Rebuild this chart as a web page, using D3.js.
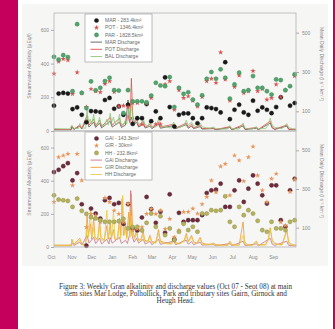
<!DOCTYPE html>
<html>
<head>
<meta charset="utf-8">
<script src="https://cdn.jsdelivr.net/npm/d3@7/dist/d3.min.js"></script>
<style>
  body { margin: 0; background: #fff; }
  svg { display: block; }
</style>
</head>
<body>
<div id="grapharea"></div>
<script>
// weekly sampling dates (Oct 07 - Sep 08)
var sampleDates = ["2007-10-01","2007-10-08","2007-10-15","2007-10-22","2007-10-29","2007-11-05","2007-11-12","2007-11-19","2007-11-26",
  "2007-12-03","2007-12-10","2007-12-17","2007-12-24","2007-12-31","2008-01-07","2008-01-14","2008-01-21","2008-01-28",
  "2008-02-04","2008-02-11","2008-02-18","2008-02-25","2008-03-03","2008-03-10","2008-03-17","2008-03-24","2008-03-31",
  "2008-04-07","2008-04-14","2008-04-21","2008-04-28","2008-05-05","2008-05-12","2008-05-19","2008-05-26","2008-06-02",
  "2008-06-09","2008-06-16","2008-06-23","2008-06-30","2008-07-07","2008-07-14","2008-07-21","2008-07-28","2008-08-04",
  "2008-08-11","2008-08-18","2008-08-25","2008-09-01","2008-09-08","2008-09-15","2008-09-22","2008-09-29"];

// main stem alkalinity (uEq/l)
var marAlk = [150,222,226,222,130,140,96,52,118,116,112,184,196,132,146,96,156,42,76,76,160,58,116,76,318,142,26,
  96,104,104,76,46,76,140,136,130,110,408,70,126,156,110,96,180,120,140,126,106,142,200,null,150,166];
var potAlk = [340,412,428,420,220,348,226,142,249,236,230,280,296,232,146,150,142,166,166,40,162,196,40,40,276,296,126,
  242,196,206,180,146,202,296,310,286,466,306,180,262,330,226,236,356,236,250,186,196,276,200,242,null,326];
var parAlk = [440,424,450,438,236,634,226,136,294,241,256,296,316,242,240,106,242,176,176,176,170,210,286,270,266,320,142,
  256,220,230,186,156,212,310,350,310,366,316,192,276,346,236,242,326,256,256,236,216,306,302,242,266,336];

// tributary alkalinity (uEq/l)
var gaiAlk = [452,466,488,506,402,446,258,8,232,202,172,282,296,258,266,140,258,112,100,178,302,228,146,212,86,318,46,
  206,152,162,162,162,192,326,342,346,382,242,242,342,402,272,352,432,382,312,262,372,372,162,122,342,412];
var girAlk = [272,542,552,562,372,562,402,120,200,190,150,296,272,220,200,150,260,100,110,120,200,230,200,220,110,170,60,
  100,212,212,232,202,258,302,402,330,486,502,312,552,522,398,542,606,432,342,272,412,442,150,130,332,406];
var hhAlk = [312,286,282,278,242,292,218,200,180,172,162,152,152,152,156,170,112,120,122,100,146,202,122,186,72,112,42,
  92,140,102,122,92,202,202,222,218,222,306,152,122,242,192,222,202,158,102,92,152,112,112,102,152,162];

// mean daily discharge, [days after 1 Oct 07, l s-1 km-2]
var marQ = [[0,6],[26,6],[27,20],[30,8],[39,25],[42,10],[50,60],[53,20],[60,45],[63,18],[69,40],[72,16],[85,50],[88,20],
  [99,45],[102,18],[108,30],[112,158],[114,50],[117,70],[120,30],[125,45],[128,20],[135,35],[138,15],[145,25],[148,12],
  [158,35],[161,14],[181,28],[184,12],[200,32],[203,14],[208,25],[211,12],[221,22],[224,10],[241,12],[245,6],[266,18],
  [269,6],[286,25],[289,7],[306,14],[309,6],[327,40],[330,15],[334,8],[352,25],[355,8],[366,6]];
var potQ = [[0,8],[26,8],[27,25],[30,10],[39,30],[42,12],[50,80],[53,30],[60,60],[63,25],[69,55],[72,22],[85,70],[88,30],
  [99,65],[102,25],[108,45],[112,80],[115,40],[117,268],[119,80],[122,40],[125,60],[128,25],[135,50],[138,20],[145,35],
  [148,18],[158,45],[161,20],[181,35],[184,15],[200,40],[203,20],[208,35],[211,15],[221,30],[224,12],[241,15],[245,8],
  [266,22],[269,8],[286,32],[289,10],[306,18],[309,8],[327,50],[330,20],[334,10],[352,30],[355,10],[366,8]];
var balQ = [[0,12],[24,10],[27,30],[30,14],[37,12],[39,38],[42,16],[48,14],[50,110],[52,40],[55,60],[57,30],[60,85],[62,40],
  [66,30],[69,70],[71,35],[76,25],[80,60],[82,30],[85,90],[87,45],[90,70],[92,40],[96,35],[99,85],[101,40],[105,30],[108,55],
  [110,35],[113,120],[115,60],[117,150],[119,60],[122,40],[125,75],[127,40],[131,30],[135,65],[137,35],[142,25],[145,45],
  [148,25],[154,20],[158,60],[161,30],[166,22],[172,18],[178,15],[181,45],[184,22],[190,18],[197,30],[200,55],[203,30],
  [208,45],[211,28],[216,20],[221,40],[224,22],[230,16],[236,14],[241,20],[245,12],[255,10],[263,10],[266,28],[269,12],
  [280,10],[286,40],[289,14],[300,10],[306,22],[309,12],[320,12],[324,30],[327,65],[330,30],[334,18],[345,12],[352,38],
  [355,18],[360,12],[366,10]];
var gaiQ = [[0,6],[26,6],[27,20],[30,8],[39,25],[42,10],[50,60],[53,20],[60,50],[63,18],[69,45],[72,16],[80,40],[83,16],
  [85,50],[88,20],[99,50],[102,18],[108,35],[111,18],[114,60],[116,292],[118,60],[121,25],[125,45],[128,20],[135,40],
  [138,15],[145,30],[148,12],[158,40],[161,14],[181,30],[184,12],[200,35],[203,14],[208,28],[211,12],[221,25],[224,10],
  [241,12],[245,6],[266,18],[269,6],[286,30],[289,7],[306,16],[309,6],[327,45],[330,15],[334,8],[352,30],[355,8],[366,6]];
var girQ = [[0,10],[26,10],[27,40],[30,14],[39,45],[42,15],[48,14],[50,170],[52,60],[55,120],[57,40],[60,150],[62,50],
  [66,40],[69,140],[71,50],[76,35],[80,110],[82,40],[85,120],[87,50],[90,90],[92,40],[96,40],[99,150],[101,60],[103,250],
  [105,60],[108,120],[110,50],[113,180],[115,70],[117,275],[119,80],[122,50],[125,90],[127,40],[131,35],[135,80],[137,35],
  [142,30],[145,60],[148,28],[154,24],[158,90],[161,30],[166,25],[172,20],[178,18],[181,55],[184,22],[190,18],[197,35],
  [200,70],[203,30],[208,60],[211,28],[216,20],[221,50],[224,20],[230,15],[236,14],[241,20],[245,12],[255,10],[263,10],
  [266,30],[269,12],[280,10],[286,130],[288,30],[292,12],[300,10],[306,30],[309,12],[320,12],[324,40],[327,100],[330,35],
  [334,18],[345,12],[352,90],[355,25],[360,12],[366,10]];
var hhQ = [[0,8],[26,8],[27,30],[30,10],[39,35],[42,12],[48,10],[50,120],[52,50],[55,190],[57,50],[60,100],[62,40],[66,35],
  [69,110],[71,40],[76,30],[80,190],[82,50],[85,90],[87,40],[90,190],[92,50],[96,40],[99,110],[101,45],[104,267],[106,60],
  [108,90],[110,40],[113,130],[115,50],[117,160],[119,60],[122,40],[125,70],[127,35],[131,30],[135,65],[137,30],[142,25],
  [145,50],[148,22],[154,20],[158,70],[161,25],[166,20],[172,16],[178,15],[181,45],[184,18],[190,15],[197,30],[200,55],
  [203,25],[208,50],[211,22],[216,18],[221,40],[224,16],[230,12],[236,12],[241,16],[245,10],[255,8],[263,8],[266,24],
  [269,10],[280,8],[286,60],[289,12],[300,8],[306,25],[309,10],[320,10],[324,35],[327,90],[330,30],[334,14],[345,10],
  [352,80],[355,20],[360,10],[366,8]];

var monthLabels = ["Oct","Nov","Dec","Jan","Feb","Mar","Apr","May","Jun","Jul","Aug","Sep"];
var alkTicks = [0, 200, 400, 600];
var dischargeTicks = [100, 300, 500];

var topLegend = ["MAR - 283.4km\u00b2", "POT - 1346.4km\u00b2", "PAR - 1828.5km\u00b2", "MAR Discharge", "POT Discharge", "BAL Discharge"];
var bottomLegend = ["GAI - 143.3km\u00b2", "GIR - 30km\u00b2", "HH - 232.8km\u00b2", "GAI Discharge", "GIR Discharge", "HH Discharge"];
var captionLines = ["Figure 3: Weekly Gran alkalinity and discharge values (Oct 07 - Seot 08) at main",
  "stem sites Mar Lodge, Polhollick, Park and tributary sites Gairn, Girnock and",
  "Heugh Head."];

var W = 335, H = 329;
var parseDate = d3.timeParse("%Y-%m-%d");
var origin = parseDate("2007-10-01");
var dates = sampleDates.map(parseDate);

var svg = d3.select("#grapharea").append("svg")
  .attr("width", W)
  .attr("height", H);

//page background and the magenta edges
svg.append("rect").attr("width", W).attr("height", H).attr("fill", "#fff");
svg.append("rect").attr("x", 22).attr("y", 4).attr("width", 306).attr("height", 262).attr("fill", "#f6f6f5");
svg.append("rect").attr("x", 0).attr("y", 0).attr("width", 18).attr("height", H).attr("fill", "#c4005c");
svg.append("rect").attr("x", 333).attr("y", 0).attr("width", 2).attr("height", H).attr("fill", "#c4005c");

var left = 54, right = 296;
var x = d3.scaleTime().domain([origin, parseDate("2008-10-01")]).range([left, right]);

var panels = [
  { top: 13, bottom: 131, alk: [["#1a1a1a", marAlk, "circle"], ["#d9534f", potAlk, "star"], ["#4fa56a", parAlk, "circle"]],
    q: [["#5a5a52", marQ], ["#e0504a", potQ], ["#8cc878", balQ]],
    legend: topLegend, lx: 85, ly: 14, lh: 48 },
  { top: 131, bottom: 247, alk: [["#6e2b3c", gaiAlk, "circle"], ["#e8965a", girAlk, "star"], ["#b5b25a", hhAlk, "circle"]],
    q: [["#c9708a", gaiQ], ["#ee9a2e", girQ], ["#e8cc48", hhQ]],
    legend: bottomLegend, lx: 85, ly: 132, lh: 48 }
];

panels.forEach(function(p) {
  var yL = d3.scaleLinear().domain([0, 700]).range([p.bottom, p.top]);
  var yR = d3.scaleLinear().domain([0, 600]).range([p.bottom, p.top]);
  var g = svg.append("g");

  //discharge lines sit behind the points
  p.q.forEach(function(s) {
    var line = d3.line()
      .x(function(d) { return x(d3.timeDay.offset(origin, d[0])); })
      .y(function(d) { return yR(d[1]); });
    g.append("path")
      .datum(s[1])
      .attr("fill", "none")
      .attr("stroke", s[0])
      .attr("stroke-width", 0.8)
      .attr("d", line);
  });

  //alkalinity points
  p.alk.forEach(function(s) {
    var pts = s[1].map(function(v, i) { return { date: dates[i], v: v }; })
      .filter(function(d) { return d.v != null; });
    if (s[2] == "circle") {
      g.selectAll(null).data(pts).enter().append("circle")
        .attr("cx", function(d) { return x(d.date); })
        .attr("cy", function(d) { return yL(d.v); })
        .attr("r", 2.1)
        .attr("fill", s[0])
        .attr("stroke", d3.color(s[0]).darker(0.8))
        .attr("stroke-width", 0.4);
    } else {
      g.selectAll(null).data(pts).enter().append("path")
        .attr("transform", function(d) { return "translate(" + x(d.date) + "," + yL(d.v) + ")"; })
        .attr("d", d3.symbol().type(d3.symbolStar).size(9))
        .attr("fill", s[0]);
    }
  });

  //frame
  g.append("rect")
    .attr("x", left).attr("y", p.top)
    .attr("width", right - left).attr("height", p.bottom - p.top)
    .attr("fill", "none")
    .attr("stroke", "#b5b5b5")
    .attr("stroke-width", 0.8);

  var yAxisL = g.append("g")
    .attr("transform", "translate(" + left + ",0)")
    .call(d3.axisLeft(yL).tickValues(alkTicks).tickSize(3).tickPadding(2));
  var yAxisR = g.append("g")
    .attr("transform", "translate(" + right + ",0)")
    .call(d3.axisRight(yR).tickValues(dischargeTicks).tickSize(3).tickPadding(3));
  [yAxisL, yAxisR].forEach(function(a) {
    a.select(".domain").remove();
    a.selectAll("line").attr("stroke", "#aaa");
    a.selectAll("text").attr("fill", "#8a8a8a").style("font", "5px Arial, 'Liberation Sans'");
  });

  //axis titles
  var mid = (p.top + p.bottom) / 2;
  g.append("text")
    .attr("transform", "translate(31," + (mid - 6) + ") rotate(-90)")
    .attr("fill", "#8a8a8a")
    .style("font", "5px Arial, 'Liberation Sans'")
    .style("text-anchor", "middle")
    .text("Streamwater Alkalinity (\u00b5Eq/l)");
  g.append("text")
    .attr("transform", "translate(320," + (mid - 8) + ") rotate(90)")
    .attr("fill", "#8a8a8a")
    .style("font", "5px Arial, 'Liberation Sans'")
    .style("text-anchor", "middle")
    .text("Mean Daily Discharge (l s\u207b\u00b9 km\u207b\u00b2)");

  //legend
  var lg = g.append("g").attr("transform", "translate(" + p.lx + "," + p.ly + ")");
  lg.append("rect")
    .attr("width", 67).attr("height", p.lh)
    .attr("fill", "#fff")
    .attr("stroke", "#a0a0a0")
    .attr("stroke-width", 0.7);
  p.legend.forEach(function(label, i) {
    var ry = 6.5 + i * 7.2;
    if (i < 3) {
      var s = p.alk[i];
      if (s[2] == "circle") {
        lg.append("circle").attr("cx", 11.5).attr("cy", ry).attr("r", 2.1)
          .attr("fill", s[0]).attr("stroke", d3.color(s[0]).darker(0.8)).attr("stroke-width", 0.4);
      } else {
        lg.append("path").attr("transform", "translate(11.5," + ry + ")")
          .attr("d", d3.symbol().type(d3.symbolStar).size(9)).attr("fill", s[0]);
      }
    } else {
      lg.append("line").attr("x1", 5.5).attr("x2", 17).attr("y1", ry).attr("y2", ry)
        .attr("stroke", p.q[i - 3][0]).attr("stroke-width", 0.9);
    }
    lg.append("text")
      .attr("x", 20).attr("y", ry + 1.7)
      .attr("fill", "#6a6a6a")
      .style("font", "5px Arial, 'Liberation Sans'")
      .text(label);
  });
});

//month axis under the lower panel
var xAxis = svg.append("g")
  .attr("transform", "translate(0,247)")
  .call(d3.axisBottom(x)
    .tickValues(d3.timeMonths(origin, parseDate("2008-10-01")))
    .tickSize(0).tickPadding(8)
    .tickFormat(function(d, i) { return monthLabels[i]; }));
xAxis.select(".domain").remove();
xAxis.selectAll("text")
  .attr("dx", -3)
  .attr("fill", "#8a8a8a")
  .style("font", "5px Arial, 'Liberation Sans'");

//caption
svg.selectAll(".caption").data(captionLines).enter().append("text")
  .attr("class", "caption")
  .attr("x", 175.5)
  .attr("y", function(d, i) { return 289 + i * 7; })
  .attr("fill", "#333")
  .style("font", "7.2px 'Liberation Serif', 'Times New Roman', serif")
  .style("text-anchor", "middle")
  .text(function(d) { return d; });
</script>
</body>
</html>
